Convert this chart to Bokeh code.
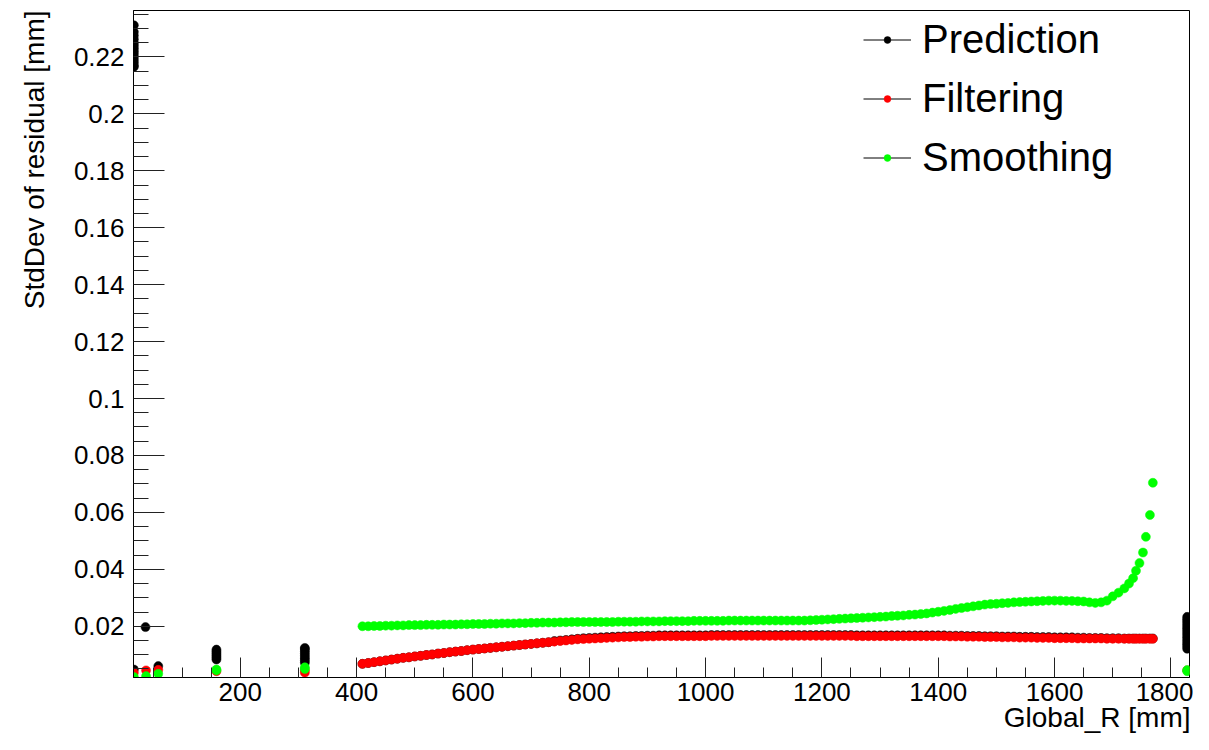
from bokeh.plotting import figure
from bokeh.models import ColumnDataSource, FixedTicker, Legend, LegendItem, Range1d, Title, Label
from bokeh.embed import file_html
from bokeh.resources import INLINE

FONT = "Liberation Sans"

# ---------------- data ----------------
# Continuous region, Global_R [mm] sampled every 10 mm, then the steep tail
band_r = [
    410, 420, 430, 440, 450, 460, 470, 480, 490, 500,
    510, 520, 530, 540, 550, 560, 570, 580, 590, 600,
    610, 620, 630, 640, 650, 660, 670, 680, 690, 700,
    710, 720, 730, 740, 750, 760, 770, 780, 790, 800,
    810, 820, 830, 840, 850, 860, 870, 880, 890, 900,
    910, 920, 930, 940, 950, 960, 970, 980, 990, 1000,
    1010, 1020, 1030, 1040, 1050, 1060, 1070, 1080, 1090, 1100,
    1110, 1120, 1130, 1140, 1150, 1160, 1170, 1180, 1190, 1200,
    1210, 1220, 1230, 1240, 1250, 1260, 1270, 1280, 1290, 1300,
    1310, 1320, 1330, 1340, 1350, 1360, 1370, 1380, 1390, 1400,
    1410, 1420, 1430, 1440, 1450, 1460, 1470, 1480, 1490, 1500,
    1510, 1520, 1530, 1540, 1550, 1560, 1570, 1580, 1590, 1600,
    1610, 1620, 1630, 1640, 1650, 1660, 1670, 1680, 1690, 1700,
    1710, 1720, 1728, 1735, 1740, 1746, 1752, 1757, 1764, 1769,
]

smoothing_band = [
    .0200, .0200, .0201, .0201, .0202, .0202, .0203, .0203, .0204, .0204,
    .0204, .0205, .0205, .0205, .0206, .0206, .0206, .0207, .0207, .0208,
    .0208, .0208, .0209, .0209, .0210, .0210, .0210, .0211, .0211, .0212,
    .0212, .0213, .0213, .0213, .0214, .0214, .0215, .0215, .0215, .0215,
    .0215, .0215, .0215, .0215, .0216, .0216, .0216, .0216, .0217, .0217,
    .0217, .0217, .0218, .0218, .0218, .0218, .0218, .0219, .0219, .0219,
    .0219, .0219, .0219, .0220, .0220, .0220, .0220, .0220, .0220, .0220,
    .0220, .0220, .0220, .0220, .0220, .0220, .0220, .0221, .0222, .0223,
    .0224, .0225, .0226, .0227, .0228, .0229, .0230, .0231, .0232, .0233,
    .0234, .0236, .0237, .0238, .0240, .0241, .0243, .0245, .0248, .0251,
    .0254, .0257, .0261, .0264, .0267, .0270, .0273, .0276, .0278, .0279,
    .0281, .0282, .0284, .0285, .0286, .0287, .0288, .0289, .0290, .0290,
    .0290, .0289, .0289, .0288, .0287, .0284, .0282, .0284, .0290, .0305,
    .0318, .0333, .0350, .0369, .0395, .0422, .0459, .0514, .0591, .0704,
]

filtering_band = [
    .0068, .0071, .0074, .0077, .0080, .0083, .0086, .0089, .0091, .0094,
    .0096, .0099, .0101, .0104, .0106, .0109, .0111, .0113, .0116, .0118,
    .0120, .0122, .0124, .0126, .0128, .0130, .0132, .0134, .0136, .0138,
    .0140, .0142, .0144, .0146, .0148, .0150, .0152, .0154, .0155, .0156,
    .0157, .0158, .0159, .0160, .0161, .0162, .0162, .0163, .0163, .0164,
    .0164, .0165, .0165, .0165, .0165, .0165, .0165, .0165, .0165, .0165,
    .0166, .0166, .0166, .0166, .0166, .0166, .0166, .0166, .0166, .0166,
    .0166, .0166, .0166, .0166, .0166, .0166, .0166, .0166, .0166, .0166,
    .0166, .0166, .0166, .0166, .0166, .0165, .0165, .0165, .0165, .0165,
    .0165, .0165, .0165, .0165, .0165, .0165, .0165, .0165, .0165, .0165,
    .0165, .0164, .0164, .0164, .0163, .0163, .0163, .0162, .0162, .0162,
    .0161, .0161, .0161, .0160, .0160, .0160, .0159, .0159, .0159, .0158,
    .0158, .0158, .0158, .0157, .0157, .0157, .0157, .0157, .0156, .0156,
    .0156, .0156, .0156, .0156, .0156, .0156, .0156, .0156, .0156, .0156,
]

prediction_band = [
    .0068, .0071, .0074, .0077, .0080, .0083, .0086, .0089, .0091, .0094,
    .0096, .0099, .0101, .0104, .0106, .0109, .0111, .0113, .0116, .0118,
    .0120, .0122, .0124, .0126, .0128, .0130, .0132, .0134, .0136, .0138,
    .0140, .0142, .0144, .0148, .0150, .0152, .0154, .0156, .0158, .0159,
    .0160, .0161, .0162, .0163, .0164, .0165, .0165, .0166, .0166, .0167,
    .0167, .0168, .0168, .0168, .0168, .0168, .0168, .0168, .0168, .0168,
    .0169, .0169, .0169, .0169, .0169, .0169, .0169, .0169, .0169, .0169,
    .0169, .0169, .0169, .0169, .0169, .0169, .0169, .0169, .0169, .0169,
    .0169, .0169, .0169, .0169, .0169, .0168, .0168, .0168, .0168, .0168,
    .0168, .0168, .0168, .0168, .0168, .0168, .0168, .0168, .0168, .0168,
    .0168, .0167, .0167, .0167, .0166, .0166, .0166, .0165, .0165, .0165,
    .0164, .0164, .0164, .0163, .0163, .0163, .0162, .0162, .0162, .0161,
    .0161, .0161, .0161, .0160, .0160, .0159, .0159, .0159, .0158, .0158,
    .0158, .0157, .0157, .0157, .0157, .0157, .0157, .0157, .0157, .0157,
]

# Discrete detector layers (inner layers and the outermost layer)
prediction_layer_r = [
    17, 17, 17, 17, 17, 17, 17, 17, 17, 17, 17, 17, 17, 17, 17,
    37, 59,
    159, 159, 159, 159, 159, 159,
    311, 311, 311, 311, 311, 311, 311, 311,
    1828, 1828, 1828, 1828, 1828, 1828, 1828, 1828,
    1828, 1828, 1828, 1828, 1828, 1828, 1828,
]
prediction_layer_v = [
    .2311, .2288, .2275, .2262, .2250, .2240, .2230, .2220, .2210, .2200,
    .2190, .2180, .2170, .2165, .0048,
    .0197, .0060,
    .0083, .0090, .0097, .0104, .0111, .0118,
    .0072, .0080, .0088, .0096, .0104, .0112, .0120, .0124,
    .0121, .0129, .0137, .0145, .0153, .0161, .0169, .0177,
    .0185, .0193, .0201, .0209, .0217, .0225, .0233,
]

filtering_layer_r = [17, 38, 59, 159, 311, 311, 1828]
filtering_layer_v = [.0037, .0045, .0047, .0042, .0037, .0045, .0045]

smoothing_layer_r = [17, 38, 59, 159, 159, 311, 311, 1828, 1828]
smoothing_layer_v = [.0022, .0025, .0033, .0045, .0048, .0050, .0056, .0042, .0046]

series_names = ["Prediction", "Filtering", "Smoothing"]
series_colors = ["#000000", "#ff0000", "#00ff00"]

x_major = [200, 400, 600, 800, 1000, 1200, 1400, 1600, 1800]
y_major = [0.02, 0.04, 0.06, 0.08, 0.1, 0.12, 0.14, 0.16, 0.18, 0.2, 0.22]
y_labels = ["0.02", "0.04", "0.06", "0.08", "0.1", "0.12", "0.14", "0.16", "0.18", "0.2", "0.22"]
x_minor = [v for v in range(50, 1850, 50) if v % 200 != 0]
y_minor = [round(0.005 * k, 3) for k in range(1, 48) if k % 4 != 0]

x_range = (16.4, 1832)
y_range = (0.0020, 0.2363)

# ---------------- figure ----------------
p = figure(width=1193, height=734, x_range=x_range, y_range=y_range,
           output_backend="svg", toolbar_location=None,
           min_border_left=132, min_border_right=4, min_border_top=10, min_border_bottom=54)
p.background_fill_color = "white"
p.border_fill_color = "white"
p.outline_line_color = "black"
p.outline_line_width = 1
p.xgrid.visible = False
p.ygrid.visible = False
p.extra_y_ranges = {"legend_only": Range1d(start=1000, end=1001)}

p.xaxis.ticker = FixedTicker(ticks=x_major, minor_ticks=x_minor)
p.yaxis.ticker = FixedTicker(ticks=y_major, minor_ticks=y_minor)
p.yaxis.major_label_overrides = {v: s for v, s in zip(y_major, y_labels)}
p.xaxis.major_label_overrides = {v: str(v) for v in x_major}

for ax in (p.xaxis[0], p.yaxis[0]):
    ax.axis_line_color = "black"
    ax.major_tick_line_color = "#222222"
    ax.minor_tick_line_color = "#222222"
    ax.major_tick_out = 0
    ax.minor_tick_out = 0
    ax.major_label_text_font = FONT
    ax.major_label_text_font_size = "26px"
    ax.major_label_text_color = "black"
p.xaxis.major_tick_in = 20
p.xaxis.minor_tick_in = 10
p.yaxis.major_tick_in = 31
p.yaxis.minor_tick_in = 15
p.xaxis.major_label_standoff = 5
p.yaxis.major_label_standoff = 9

# axis titles (ROOT style: aligned to the end of each axis)
p.add_layout(Title(text="StdDev of residual [mm]", align="right", vertical_align="top",
                   text_font=FONT, text_font_size="28px", text_font_style="normal",
                   text_color="black", standoff=37), "left")
p.add_layout(Label(x=1057, y=17, x_units="screen", y_units="screen",
                   text="Global_R [mm]", text_font=FONT, text_font_size="28px",
                   text_color="black", text_align="right", text_baseline="middle"), "below")

sources = [
    ColumnDataSource(dict(r=prediction_layer_r + band_r, v=prediction_layer_v + prediction_band)),
    ColumnDataSource(dict(r=filtering_layer_r + band_r, v=filtering_layer_v + filtering_band)),
    ColumnDataSource(dict(r=smoothing_layer_r + band_r, v=smoothing_layer_v + smoothing_band)),
]

items = []
for name, color, src in zip(series_names, series_colors, sources):
    # line drawn only for the legend sample (its range keeps it outside the frame)
    ln = p.line("r", "v", source=src, y_range_name="legend_only",
                line_color="black", line_width=1)
    sc = p.scatter("r", "v", source=src, size=9, fill_color=color,
                   line_color=color, line_width=0.5, marker="circle")
    items.append(LegendItem(label=name, renderers=[ln, sc]))

legend = Legend(items=items, location=(730, 490), orientation="vertical",
                border_line_alpha=0, background_fill_alpha=0,
                padding=0, margin=0, spacing=0,
                glyph_width=48, glyph_height=17, label_height=59,
                label_standoff=11, label_text_font=FONT, label_text_color="black",
                label_text_font_size="40px", label_text_baseline="middle")
p.add_layout(legend, "center")

open("out.html", "w").write(file_html(p, INLINE))
